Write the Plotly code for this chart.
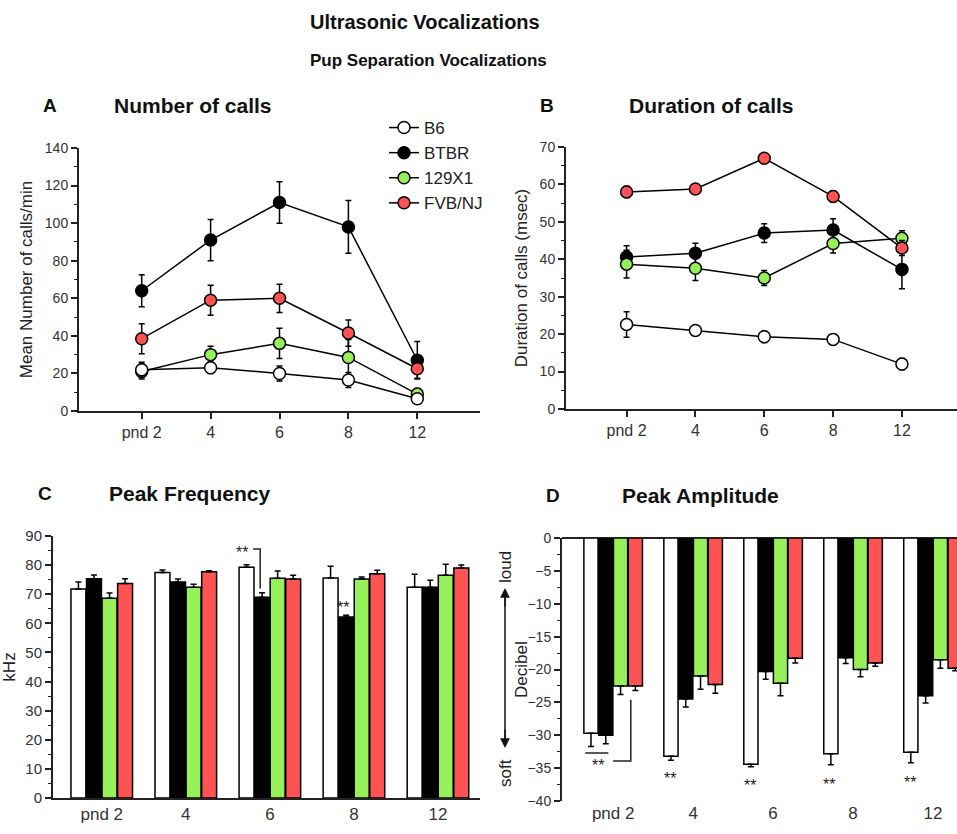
import plotly.graph_objects as go

W, H = 957, 834

pnd = ["pnd 2", "4", "6", "8", "12"]
strains = ["B6", "BTBR", "129X1", "FVB/NJ"]

# A - number of calls (mean, sem)
calls_b6 = [22, 23, 20, 16.5, 6.5]
calls_b6_err = [4, 3, 4, 4, 2]
calls_btbr = [64, 91, 111, 98, 27]
calls_btbr_err = [8.5, 11, 11, 14, 10]
calls_129 = [21, 30, 36, 28.5, 9]
calls_129_err = [4, 4.5, 8, 9.5, 3]
calls_fvb = [38.5, 59, 60, 41.5, 22.5]
calls_fvb_err = [8, 8, 7.5, 7, 5]

# B - duration of calls (msec)
dur_b6 = [22.6, 21, 19.3, 18.6, 12]
dur_b6_err = [3.4, 1, 1.5, 1, 1.5]
dur_btbr = [40.6, 41.6, 47, 47.8, 37.3]
dur_btbr_err = [3, 2.7, 2.5, 3, 5.2]
dur_129 = [38.7, 37.6, 35, 44.2, 45.6]
dur_129_err = [3.7, 3.3, 2, 2.5, 2]
dur_fvb = [58, 58.8, 67, 56.8, 43]
dur_fvb_err = [1.5, 1, 1, 1.5, 2]

# C - peak frequency (kHz)
freq_b6 = [71.8, 77.5, 79.3, 75.6, 72.4]
freq_b6_err = [2.4, 0.8, 0.8, 4, 4.5]
freq_btbr = [75.3, 74.2, 69, 62.2, 72.4]
freq_btbr_err = [1.3, 1, 1.5, 0.6, 2.4]
freq_129 = [68.6, 72.4, 75.5, 75.2, 76.5]
freq_129_err = [1.8, 1, 2.5, 0.7, 3.8]
freq_fvb = [73.7, 77.7, 75.2, 77, 79]
freq_fvb_err = [1.6, 0.4, 1.3, 1.2, 1]

# D - peak amplitude (dB)
amp_b6 = [-29.7, -33.2, -34.4, -32.8, -32.6]
amp_b6_err = [2, 0.6, 0.4, 1.7, 1.6]
amp_btbr = [-30, -24.5, -20.3, -18.2, -24]
amp_btbr_err = [1.3, 1.2, 1.2, 0.9, 1.1]
amp_129 = [-22.5, -21, -22.1, -20, -18.5]
amp_129_err = [1.3, 2, 1.9, 1.1, 1.3]
amp_fvb = [-22.5, -22.3, -18.3, -19, -19.8]
amp_fvb_err = [0.7, 1.3, 0.7, 0.5, 0.4]

colors = ["#ffffff", "#000000", "#96f05a", "#ff5252"]
FONT = "Arial, Liberation Sans, sans-serif"


def px_x(x):
    return x / W


def px_y(y):
    return 1 - y / H


fig = go.Figure()

# line panels: B6 drawn last so its open circles sit on top
draw_order = [1, 2, 3, 0]
line_sets = [
    ("x", "y", [calls_b6, calls_btbr, calls_129, calls_fvb],
     [calls_b6_err, calls_btbr_err, calls_129_err, calls_fvb_err], True),
    ("x2", "y2", [dur_b6, dur_btbr, dur_129, dur_fvb],
     [dur_b6_err, dur_btbr_err, dur_129_err, dur_fvb_err], False),
]
for xa, ya, vals, errs, legend in line_sets:
    for i in draw_order:
        fig.add_trace(go.Scatter(
            x=pnd, y=vals[i], name=strains[i], mode="lines+markers",
            xaxis=xa, yaxis=ya, showlegend=legend, legendrank=i + 1,
            line=dict(color="black", width=1.5),
            marker=dict(size=12, color=colors[i], line=dict(color="black", width=1.5)),
            error_y=dict(type="data", array=errs[i], color="black", thickness=1.5, width=3),
        ))

bar_sets = [
    ("x3", "y3", [freq_b6, freq_btbr, freq_129, freq_fvb],
     [freq_b6_err, freq_btbr_err, freq_129_err, freq_fvb_err], True),
    ("x4", "y4", [amp_b6, amp_btbr, amp_129, amp_fvb],
     [amp_b6_err, amp_btbr_err, amp_129_err, amp_fvb_err], False),
]
for xa, ya, vals, errs, up in bar_sets:
    for name, col, v, e in zip(strains, colors, vals, errs):
        zeros = [0] * len(e)
        fig.add_trace(go.Bar(
            x=pnd, y=v, name=name, xaxis=xa, yaxis=ya, showlegend=False,
            marker=dict(color=col, line=dict(color="black", width=1.5)),
            error_y=dict(type="data", symmetric=False,
                         array=e if up else zeros,
                         arrayminus=zeros if up else e,
                         color="black", thickness=1.5, width=3),
        ))

tickfont = dict(family=FONT, size=14, color="#333")
xtickfont = dict(family=FONT, size=16, color="#333")
titlefont = dict(family=FONT, size=17, color="#222")
minor_tk = dict(ticklen=3, tickwidth=1.2, tickcolor="#222", ticks="outside", showgrid=False)

common_y = dict(showline=True, linecolor="#222", linewidth=2, ticks="outside",
                ticklen=6, tickwidth=1.5, tickcolor="#222", showgrid=False,
                zeroline=False, tickfont=tickfont, title_font=titlefont,
                automargin=False)
common_x = dict(showline=True, linecolor="#222", linewidth=2, showgrid=False,
                zeroline=False, tickfont=xtickfont, type="category",
                automargin=False)

fig.update_layout(
    template="none",
    width=W, height=H, margin=dict(l=0, r=0, t=0, b=0, pad=0),
    paper_bgcolor="white", plot_bgcolor="white",
    font=dict(family=FONT, color="#222"),
    barmode="group", bargap=0.26, bargroupgap=0.04,
    xaxis=dict(common_x, domain=[px_x(79), px_x(480)], anchor="y",
               range=[-0.91, 4.91], ticks="outside", ticklen=6, tickwidth=1.5,
               tickcolor="#222"),
    yaxis=dict(common_y, domain=[px_y(411), px_y(148)], anchor="x",
               range=[0, 140], dtick=20, minor=dict(minor_tk, dtick=10),
               title=dict(text="Mean Number of calls/min", standoff=8)),
    xaxis2=dict(common_x, domain=[px_x(566), px_x(957)], anchor="y2",
                range=[-0.88, 4.8], ticks="outside", ticklen=6, tickwidth=1.5,
                tickcolor="#222"),
    yaxis2=dict(common_y, domain=[px_y(409), px_y(147)], anchor="x2",
                range=[0, 70], dtick=10, minor=dict(minor_tk, dtick=5),
                title=dict(text="Duration of calls (msec)", standoff=8)),
    xaxis3=dict(common_x, domain=[px_x(53), px_x(480)], anchor="y3",
                range=[-0.58, 4.5], ticks="", tickfont=dict(xtickfont, size=17)),
    yaxis3=dict(common_y, domain=[px_y(798), px_y(536)], anchor="x3",
                range=[0, 90], dtick=10, tickfont=dict(tickfont, size=15),
                minor=dict(minor_tk, dtick=5),
                title=dict(text="kHz", standoff=8)),
    xaxis4=dict(common_x, domain=[px_x(562), px_x(957)], anchor="y4",
                range=[-0.64, 4.3], ticks="", showline=False,
                tickfont=dict(xtickfont, size=17)),
    yaxis4=dict(common_y, domain=[px_y(801), px_y(538)], anchor="x4",
                range=[-40, 0], dtick=5,
                zeroline=True, zerolinecolor="#222", zerolinewidth=2,
                minor=dict(minor_tk, dtick=2.5)),
    legend=dict(x=px_x(384), y=px_y(110), xanchor="left", yanchor="top",
                font=dict(family=FONT, size=17, color="#222"),
                bgcolor="rgba(0,0,0,0)", itemwidth=30, tracegroupgap=0,
                traceorder="normal"),
)

# headings
heads = [
    ("Ultrasonic Vocalizations", 425, 22, 20, "center"),
    ("Pup Separation Vocalizations", 428, 60, 17, "center"),
    ("A", 50, 105, 19, "center"),
    ("Number of calls", 112, 105, 21, "left"),
    ("B", 547, 105, 19, "center"),
    ("Duration of calls", 627, 105, 21, "left"),
    ("C", 45, 493, 19, "center"),
    ("Peak Frequency", 107, 493, 21, "left"),
    ("D", 553, 495, 19, "center"),
    ("Peak Amplitude", 620, 495, 21, "left"),
]
for txt, x, y, size, anchor in heads:
    fig.add_annotation(text="<b>%s</b>" % txt, x=px_x(x), y=px_y(y),
                       xref="paper", yref="paper", xanchor=anchor, yanchor="middle",
                       showarrow=False, font=dict(family=FONT, size=size, color="#111"))

# significance marks, panel C
star = dict(family=FONT, size=16, color="#222")
fig.add_annotation(text="**", x=1.67, y=84.5, xref="x3", yref="y3",
                   showarrow=False, font=star)
fig.add_annotation(text="**", x=2.87, y=65.5, xref="x3", yref="y3",
                   showarrow=False, font=star)
fig.add_shape(type="path", path="M 1.8,85.5 L 1.885,85.5 L 1.885,72",
              xref="x3", yref="y3", line=dict(color="#222", width=1.5))

# significance marks, panel D
for xs, ys in [(-0.19, -34.6), (0.71, -36.6), (1.71, -37.6), (2.70, -37.5), (3.71, -37.2)]:
    fig.add_annotation(text="**", x=xs, y=ys, xref="x4", yref="y4",
                       showarrow=False, font=star)
fig.add_shape(type="line", x0=-0.35, x1=-0.06, y0=-32.7, y1=-32.7,
              xref="x4", yref="y4", line=dict(color="#222", width=1.5))
fig.add_shape(type="path", path="M 0.0,-33.9 L 0.22,-33.9 L 0.22,-24.6",
              xref="x4", yref="y4", line=dict(color="#222", width=1.5))

# D y-axis label with loud / soft arrow
side = dict(family=FONT, size=17, color="#222")
fig.add_shape(type="line", x0=px_x(505), x1=px_x(505), y0=px_y(596), y1=px_y(740),
              xref="paper", yref="paper", line=dict(color="#111", width=1.5))
fig.add_annotation(x=px_x(505), y=px_y(588), xref="paper", yref="paper",
                   ax=0, ay=20, text="", showarrow=True, arrowhead=2,
                   arrowsize=1.3, arrowwidth=1.5, arrowcolor="#111")
fig.add_annotation(x=px_x(505), y=px_y(748), xref="paper", yref="paper",
                   ax=0, ay=-20, text="", showarrow=True, arrowhead=2,
                   arrowsize=1.3, arrowwidth=1.5, arrowcolor="#111")
for txt, x, y in [("Decibel", 521, 670), ("loud", 505, 567), ("soft", 505, 773)]:
    fig.add_annotation(text=txt, x=px_x(x), y=px_y(y), xref="paper", yref="paper",
                       xanchor="center", yanchor="middle",
                       textangle=-90, showarrow=False, font=side)

fig.write_html("out.html", config={"displayModeBar": False},
               post_script="document.body.style.margin='0';")
